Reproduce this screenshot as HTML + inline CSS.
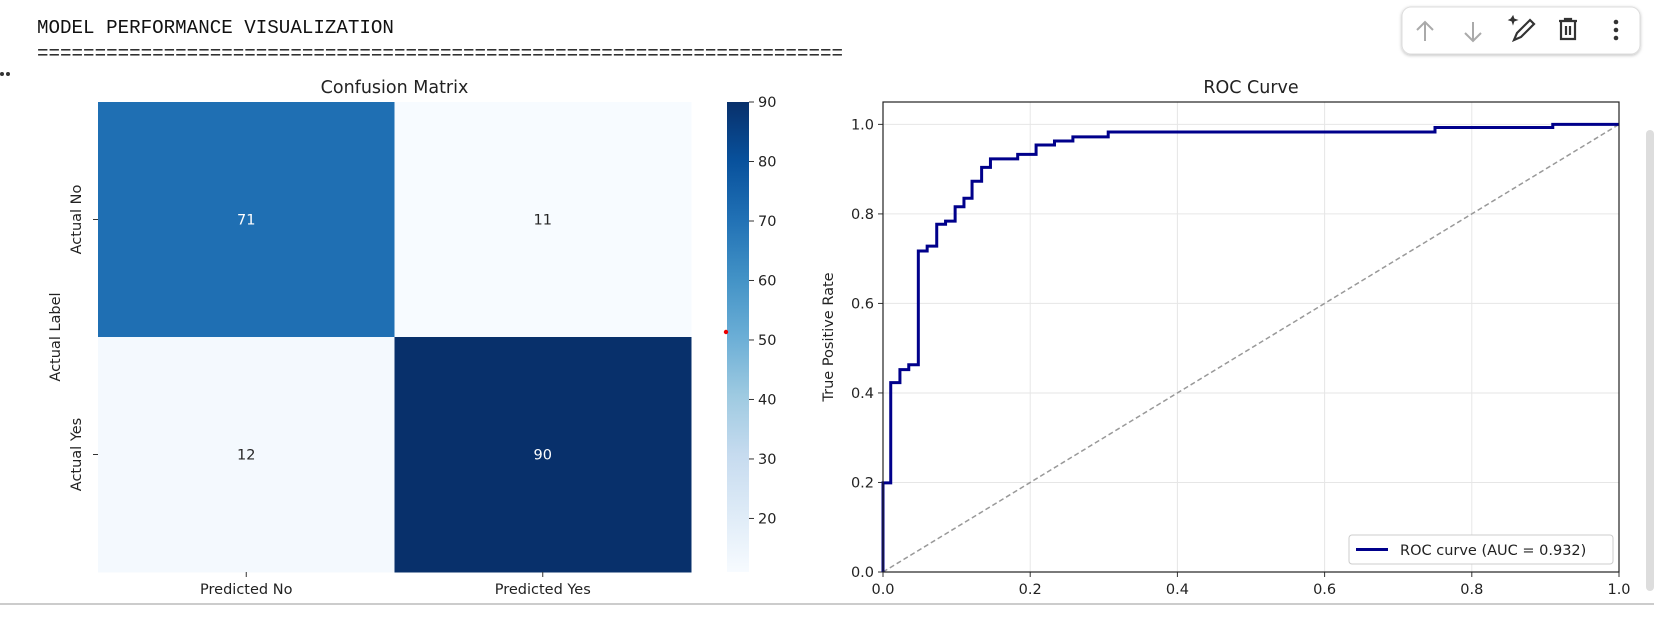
<!DOCTYPE html>
<html><head><meta charset="utf-8">
<style>
html,body{margin:0;padding:0;background:#fff;width:1654px;height:624px;overflow:hidden}
svg{display:block}
text{font-family:"DejaVu Sans","Liberation Sans",sans-serif;fill:#222}
.mono{font-family:"Liberation Mono",monospace;fill:#111}
</style></head>
<body>
<svg id="root" width="1654" height="624" viewBox="0 0 1654 624" xmlns="http://www.w3.org/2000/svg">
  <defs>
    <linearGradient id="blues" x1="0" y1="1" x2="0" y2="0">
      <stop offset="0" stop-color="#f7fbff"/><stop offset="0.125" stop-color="#deebf7"/>
      <stop offset="0.25" stop-color="#c6dbef"/><stop offset="0.375" stop-color="#9ecae1"/>
      <stop offset="0.5" stop-color="#6baed6"/><stop offset="0.625" stop-color="#4292c6"/>
      <stop offset="0.75" stop-color="#2171b5"/><stop offset="0.875" stop-color="#08519c"/>
      <stop offset="1" stop-color="#08306b"/>
    </linearGradient>
    <filter id="sh" x="-10%" y="-30%" width="120%" height="160%"><feDropShadow dx="0" dy="1" stdDeviation="1.5" flood-color="#000" flood-opacity="0.25"/></filter>
  </defs>
  <text class="mono" x="37" y="33" font-size="19.2">MODEL PERFORMANCE VISUALIZATION</text>
  <text class="mono" x="37" y="59" font-size="19.2">======================================================================</text>
  <g><circle cx="2" cy="74" r="2" fill="#333"/><circle cx="8" cy="74" r="2" fill="#333"/></g>

  <g id="cm"></g>
  <g id="cb"></g>
  <circle cx="726" cy="332" r="2.2" fill="#e00"/>
  <g id="roc"></g>

  <line x1="0" y1="604" x2="1654" y2="604" stroke="#999" stroke-width="1"/>
  <rect x="1646" y="130" width="8" height="461" rx="4" fill="#ddd"/>

  <g>
    <rect x="1402" y="7" width="238" height="47" rx="9" fill="#fff" stroke="#ddd" filter="url(#sh)"/>
    <g stroke="#aaa" stroke-width="2" fill="none">
      <path d="M1425 41 V22 M1417 30 L1425 22 L1433 30"/></g>
    <g stroke="#aaa" stroke-width="2" fill="none">
      <path d="M1473 22 V41 M1465 33 L1473 41 L1481 33"/></g>
    <g stroke="#333" stroke-width="2.2" fill="none">
      <path d="M1514 40 L1517 33 L1530 20 L1534 24 L1521 37 Z"/><path d="M1511 19 l2 -3 l1 3 l3 1 l-3 1 l-1 3 l-1 -3 l-3 -1 z" fill="#333" stroke-width="1"/></g>
    <g stroke="#333" stroke-width="2.2" fill="none">
      <path d="M1559 21 H1577 M1565 21 V19 H1571 V21 M1561 21 V39 H1575 V21 M1566 26 V35 M1570 26 V35"/></g>
    <g fill="#333">
      <circle cx="1616" cy="22" r="2.3"/><circle cx="1616" cy="30" r="2.3"/><circle cx="1616" cy="38" r="2.3"/></g>
  </g>
</svg>
<script>
// ---- Confusion matrix data ----
const cmRows = ["Actual No","Actual Yes"];
const cmCols = ["Predicted No","Predicted Yes"];
const cmValues = [[71,11],[12,90]];
const cbTicks = [20,30,40,50,60,70,80,90];
// ---- ROC data ----
const fpr = [0,0,0.0105,0.0105,0.023,0.023,0.035,0.035,0.048,0.048,0.060,0.060,0.073,0.073,0.085,0.085,0.098,0.098,0.110,0.110,0.121,0.121,0.134,0.134,0.146,0.146,0.183,0.183,0.208,0.208,0.233,0.233,0.258,0.258,0.306,0.306,0.750,0.750,0.910,0.910,1.0];
const tpr = [0,0.199,0.199,0.423,0.423,0.452,0.452,0.463,0.463,0.717,0.717,0.728,0.728,0.777,0.777,0.784,0.784,0.816,0.816,0.835,0.835,0.873,0.873,0.904,0.904,0.923,0.923,0.933,0.933,0.954,0.954,0.963,0.963,0.972,0.972,0.983,0.983,0.993,0.993,1.0,1.0];
const rocTicksX = [0,0.2,0.4,0.6,0.8,1.0];
const rocTicksY = [0,0.2,0.4,0.6,0.8,1.0];
const legendLabel = "ROC curve (AUC = 0.932)";

const NS="http://www.w3.org/2000/svg";
function mk(tag,attrs,parent){const e=document.createElementNS(NS,tag);for(const k in attrs)e.setAttribute(k,attrs[k]);parent.appendChild(e);return e;}
function lerp(a,b,t){return a+(b-a)*t;}
const stops=[[247,251,255],[222,235,247],[198,219,239],[158,202,225],[107,174,214],[66,146,198],[33,113,181],[8,81,156],[8,48,107]];
function blues(t){t=Math.max(0,Math.min(1,t));const p=t*8,i=Math.min(7,Math.floor(p)),f=p-i;const a=stops[i],b=stops[i+1];return `rgb(${Math.round(lerp(a[0],b[0],f))},${Math.round(lerp(a[1],b[1],f))},${Math.round(lerp(a[2],b[2],f))})`;}

// Confusion matrix
const cm=document.getElementById('cm');
const hx0=98,hx1=691,hy0=102,hy1=572;
const flat=cmValues.flat();const vmin=Math.min(...flat),vmax=Math.max(...flat);
const cw=(hx1-hx0)/cmCols.length, ch=(hy1-hy0)/cmRows.length;
cmValues.forEach((row,r)=>row.forEach((v,c)=>{
  const t=(v-vmin)/(vmax-vmin);
  const rect=mk('rect',{x:hx0+c*cw,y:hy0+r*ch,width:cw+0.5,height:ch+0.5,fill:blues(t)},cm);
  
  
  const tx=mk('text',{x:hx0+c*cw+cw/2,y:hy0+r*ch+ch/2+5,'font-size':14.5,'text-anchor':'middle',style:'fill:'+(t>0.5?'#fff':'#262626')},cm);
  tx.textContent=v;
  
  
}));
cmRows.forEach((lab,r)=>{
  const y=hy0+r*ch+ch/2;
  mk('line',{x1:hx0-5,y1:y,x2:hx0,y2:y,stroke:'#333'},cm);
  const t=mk('text',{x:0,y:0,'font-size':14.5,'text-anchor':'middle',transform:`translate(81,${y}) rotate(-90)`},cm);
  t.textContent=lab;
  
  
});
cmCols.forEach((lab,c)=>{
  const x=hx0+c*cw+cw/2;
  mk('line',{x1:x,y1:hy1,x2:x,y2:hy1+5,stroke:'#333'},cm);
  const t=mk('text',{x:x,y:594,'font-size':14.5,'text-anchor':'middle'},cm);
  t.textContent=lab;
  
  
});
{const t=mk('text',{x:0,y:0,'font-size':14.5,'text-anchor':'middle',transform:`translate(60,${(hy0+hy1)/2}) rotate(-90)`},cm);t.textContent='Actual Label';

}
{const t=mk('text',{x:(hx0+hx1)/2,y:93,'font-size':17.5,'text-anchor':'middle'},cm);t.textContent='Confusion Matrix';

}

// Colorbar
const cb=document.getElementById('cb');
const bx0=727,bx1=749;
mk('rect',{x:bx0,y:hy0,width:bx1-bx0,height:hy1-hy0,fill:'url(#blues)'},cb);
function cbY(v){return hy1-(v-vmin)/(vmax-vmin)*(hy1-hy0);}
cbTicks.forEach(v=>{
  const y=cbY(v);
  mk('line',{x1:bx1,y1:y,x2:bx1+5,y2:y,stroke:'#333'},cb);
  const t=mk('text',{x:bx1+9,y:y+5,'font-size':14.5},cb);t.textContent=v;
  
  
});

// ROC
const roc=document.getElementById('roc');
const rx0=883,rx1=1619,ry0=102,ry1=572,ymax=1.05;
const X=v=>rx0+v*(rx1-rx0), Y=v=>ry1-v/ymax*(ry1-ry0);
rocTicksX.forEach(v=>{mk('line',{x1:X(v),y1:ry0,x2:X(v),y2:ry1,stroke:'#e6e6e6','stroke-width':1},roc);
  mk('line',{x1:X(v),y1:ry1,x2:X(v),y2:ry1+5,stroke:'#333'},roc);
  const t=mk('text',{x:X(v),y:ry1+22,'font-size':14.5,'text-anchor':'middle'},roc);t.textContent=v.toFixed(1);
  
  });
rocTicksY.forEach(v=>{mk('line',{x1:rx0,y1:Y(v),x2:rx1,y2:Y(v),stroke:'#e6e6e6','stroke-width':1},roc);
  mk('line',{x1:rx0-5,y1:Y(v),x2:rx0,y2:Y(v),stroke:'#333'},roc);
  const t=mk('text',{x:rx0-9,y:Y(v)+5,'font-size':14.5,'text-anchor':'end'},roc);t.textContent=v.toFixed(1);
  
  });
{const d=mk('line',{x1:X(0),y1:Y(0),x2:X(1),y2:Y(1),stroke:'#999','stroke-width':1.5,'stroke-dasharray':'5,3'},roc);

}
{const p=mk('polyline',{points:fpr.map((f,i)=>X(f)+','+Y(tpr[i])).join(' '),fill:'none',stroke:'#00008b','stroke-width':3},roc);

}
mk('rect',{x:rx0,y:ry0,width:rx1-rx0,height:ry1-ry0,fill:'none',stroke:'#222','stroke-width':1.2},roc);
{const t=mk('text',{x:(rx0+rx1)/2,y:93,'font-size':17.5,'text-anchor':'middle'},roc);t.textContent='ROC Curve';

}
{const t=mk('text',{x:0,y:0,'font-size':14.5,'text-anchor':'middle',transform:`translate(833,${(ry0+ry1)/2}) rotate(-90)`},roc);t.textContent='True Positive Rate';

}
{const g=mk('g',{},roc);


mk('rect',{x:1349,y:535,width:264,height:29,rx:3,fill:'#fff',stroke:'#ccc'},g);
mk('line',{x1:1356,y1:549.5,x2:1388,y2:549.5,stroke:'#00008b','stroke-width':3},g);
const t=mk('text',{x:1400,y:555,'font-size':14.5},g);t.textContent=legendLabel;}
</script>
</body></html>
